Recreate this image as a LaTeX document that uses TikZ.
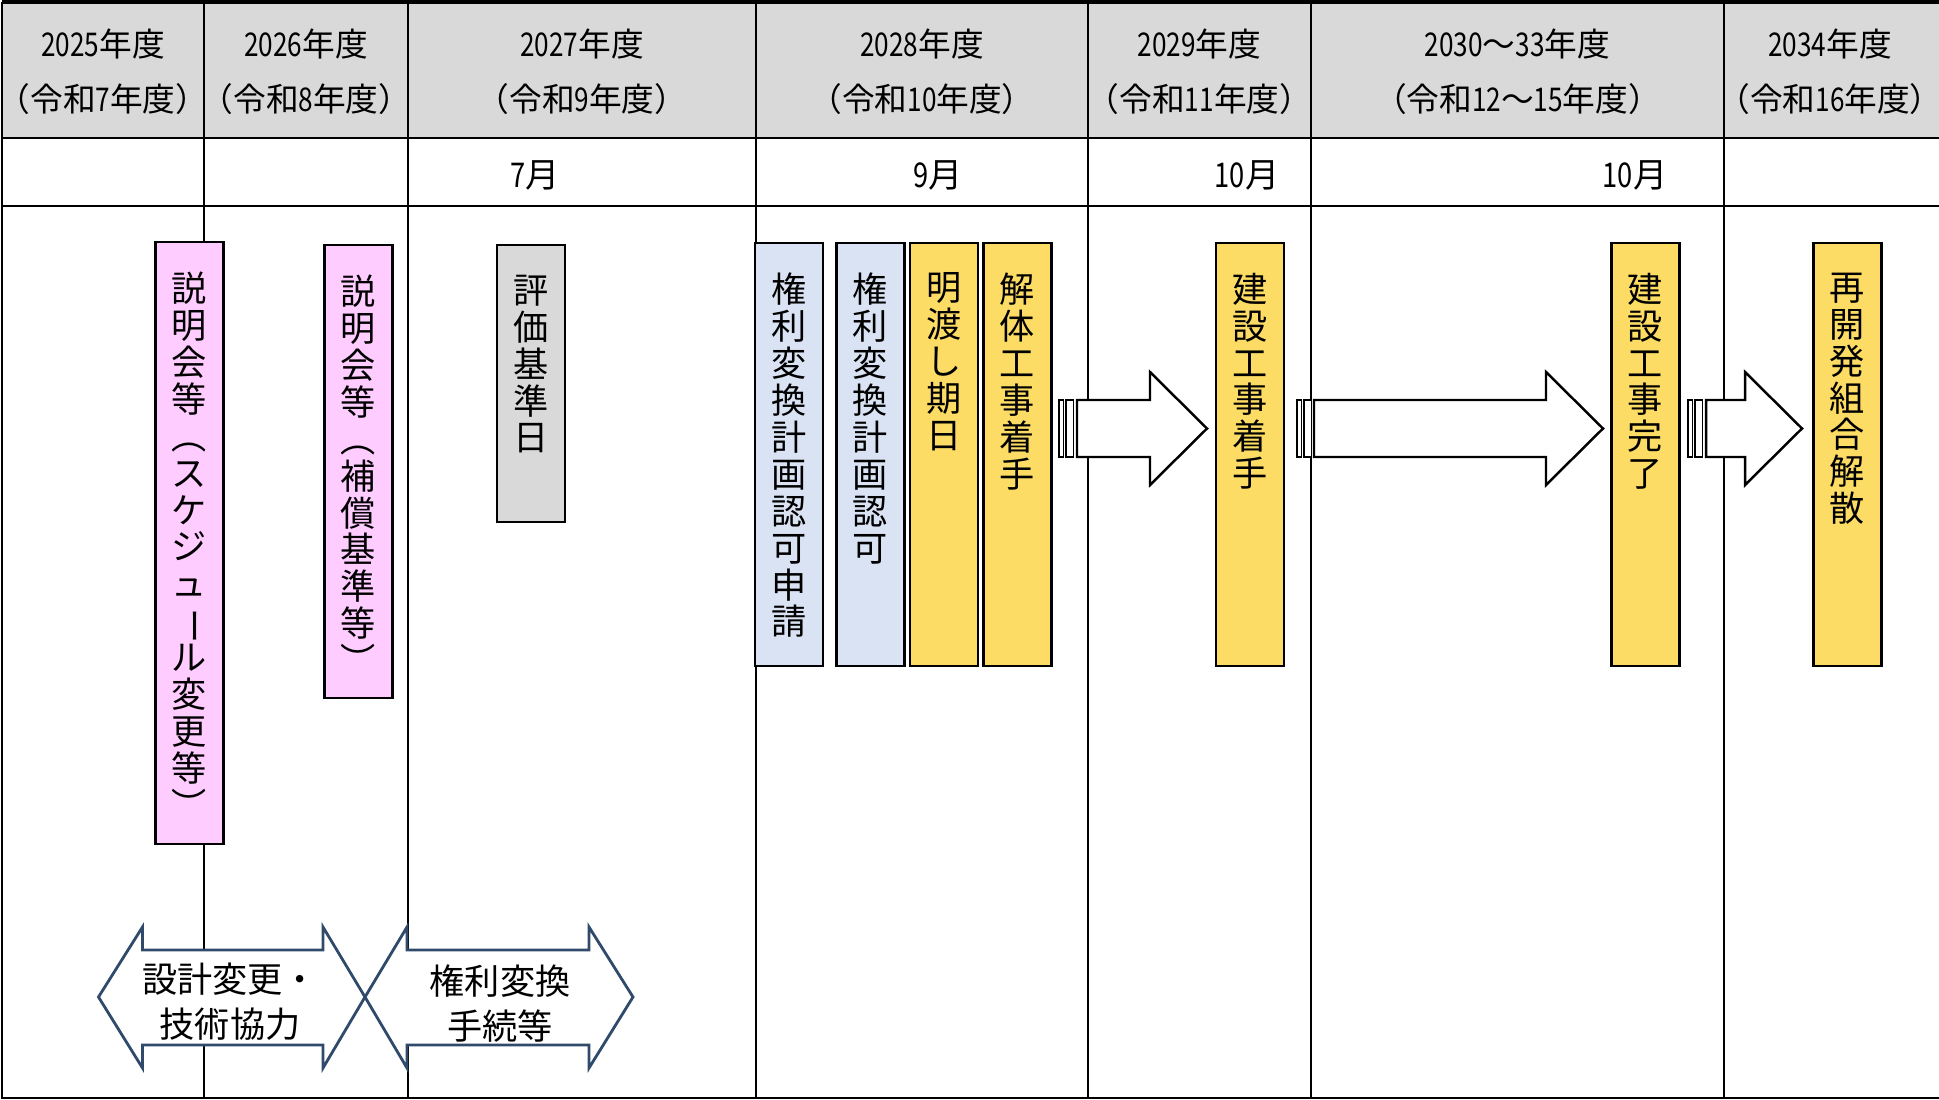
\documentclass[tikz,border=0pt]{standalone}
\usepackage{fontspec}
\setmainfont{Noto Sans CJK JP}
\newfontfamily\narrowfont[FakeStretch=0.8]{Noto Sans CJK JP}
\newcommand{\narrownum}[1]{{\narrowfont #1}}
\usetikzlibrary{positioning}

\definecolor{headgray}{RGB}{217,217,217}
\definecolor{pinkfill}{RGB}{255,204,255}
\definecolor{bluefill}{RGB}{218,227,243}
\definecolor{yellowfill}{RGB}{252,220,100}
\definecolor{arrowblue}{RGB}{47,74,106}

\begin{document}
\begin{tikzpicture}[x = 0.01cm, y = -0.01cm, line width = 0.6pt,
                     headtext/.style = {align = center, font = \fontsize{9.3}{15.6}\selectfont},
                     monthtext/.style = {font = \fontsize{9.7}{11}\selectfont},
                     tallbox/.style = {draw, minimum width = 0.68cm, inner sep = 0pt},
                     pinkbox/.style = {tallbox, fill = pinkfill},
                     graybox/.style = {tallbox, fill = headgray},
                     bluebox/.style = {tallbox, fill = bluefill, minimum height = 4.23cm},
                     yellowbox/.style = {tallbox, fill = yellowfill, minimum height = 4.23cm},
                     vtext/.style = {align = center, inner sep = 0pt, font = \fontsize{10}{10.5}\selectfont},
                     blockarrow/.style = {draw, fill = white, line width = 0.7pt},
                     stripe/.style = {draw, fill = white, line width = 0.35pt},
                     twoway/.style = {draw = arrowblue, fill = white, line width = 0.8pt},
                     arrowtext/.style = {align = center, font = \fontsize{10}{12.8}\selectfont}]
    \useasboundingbox (0, 0) rectangle (1939, 1100);

    % table
    \fill[headgray] (2, 2) rectangle (1939, 138);
    \draw (2, 138) -- (1939, 138);
    \draw (2, 206) -- (1939, 206);
    \draw[line width = 1.2pt] (2, 2) -- (1939, 2);
    \draw (2, 2) -- (2, 1098) -- (1939, 1098);
    \draw (204, 2) -- (204, 1098);
    \draw (408, 2) -- (408, 1098);
    \draw (756, 2) -- (756, 1098);
    \draw (1088, 2) -- (1088, 1098);
    \draw (1311, 2) -- (1311, 1098);
    \draw (1724, 2) -- (1724, 1098);

    \node [headtext] (fy2025) at (103, 72) {\narrownum{2025}年度\\（令和\narrownum{7}年度）};
    \node [headtext] (fy2026) at (306, 72) {\narrownum{2026}年度\\（令和\narrownum{8}年度）};
    \node [headtext] (fy2027) at (582, 72) {\narrownum{2027}年度\\（令和\narrownum{9}年度）};
    \node [headtext] (fy2028) at (922, 72) {\narrownum{2028}年度\\（令和\narrownum{10}年度）};
    \node [headtext] (fy2029) at (1199.5, 72) {\narrownum{2029}年度\\（令和\narrownum{11}年度）};
    \node [headtext] (fy2030) at (1517.5, 72) {\narrownum{2030}～\narrownum{33}年度\\（令和\narrownum{12}～\narrownum{15}年度）};
    \node [headtext] (fy2034) at (1830, 72) {\narrownum{2034}年度\\（令和\narrownum{16}年度）};

    \node [monthtext] (m2027) at (535, 175) {\narrownum{7}月};
    \node [monthtext] (m2028) at (938, 175) {\narrownum{9}月};
    \node [monthtext] (m2029) at (1247, 175) {\narrownum{10}月};
    \node [monthtext] (m2033) at (1635, 175) {\narrownum{10}月};

    % step boxes
    \node [pinkbox, minimum height = 6.02cm] (setsumei1) at (189.5, 543){};
    \node [pinkbox, minimum height = 4.53cm] (setsumei2) at (358.5, 471.5){};
    \node [graybox, minimum height = 2.77cm] (hyoka) at (531, 383.5){};
    \node [bluebox] (shinsei) at (789, 454.5){};
    \node [bluebox] (ninka) at (870.5, 454.5){};
    \node [yellowbox] (akewatashi) at (944, 454.5){};
    \node [yellowbox] (kaitai) at (1017.5, 454.5){};
    \node [yellowbox] (chakko) at (1250, 454.5){};
    \node [yellowbox] (kanryo) at (1645.5, 454.5){};
    \node [yellowbox] (kaisan) at (1847.5, 454.5){};

    \node [vtext, below = 3mm of setsumei1.north] (setsumei1t) {説\\明\\会\\等\\︵\\ス\\ケ\\ジ\\ュ\\\rotatebox[origin=c]{-90}{ー}\\ル\\変\\更\\等\\︶};
    \node [vtext, below = 3mm of setsumei2.north] (setsumei2t) {説\\明\\会\\等\\︵\\補\\償\\基\\準\\等\\︶};
    \node [vtext, below = 3mm of hyoka.north] (hyokat) {評\\価\\基\\準\\日};
    \node [vtext, below = 3mm of shinsei.north] (shinseit) {権\\利\\変\\換\\計\\画\\認\\可\\申\\請};
    \node [vtext, below = 3mm of ninka.north] (ninkat) {権\\利\\変\\換\\計\\画\\認\\可};
    \node [vtext, below = 3mm of akewatashi.north] (akewatashit) {明\\渡\\し\\期\\日};
    \node [vtext, below = 3mm of kaitai.north] (kaitait) {解\\体\\工\\事\\着\\手};
    \node [vtext, below = 3mm of chakko.north] (chakkot) {建\\設\\工\\事\\着\\手};
    \node [vtext, below = 3mm of kanryo.north] (kanryot) {建\\設\\工\\事\\完\\了};
    \node [vtext, below = 3mm of kaisan.north] (kaisant) {再\\開\\発\\組\\合\\解\\散};

    % block arrows
    \draw[stripe] (1059, 400) rectangle (1063.5, 457);
    \draw[stripe] (1066, 400) rectangle (1073.5, 457);
    \draw[blockarrow] (1077, 400) -- (1150, 400) -- (1150, 372) -- (1207, 428.5)
        -- (1150, 485) -- (1150, 457) -- (1077, 457) -- cycle;

    \draw[stripe] (1297, 400) rectangle (1301.5, 457);
    \draw[stripe] (1304, 400) rectangle (1311.5, 457);
    \draw[blockarrow] (1314, 400) -- (1546, 400) -- (1546, 372) -- (1603, 428.5)
        -- (1546, 485) -- (1546, 457) -- (1314, 457) -- cycle;

    \draw[stripe] (1688, 400) rectangle (1692.5, 457);
    \draw[stripe] (1695, 400) rectangle (1702.5, 457);
    \draw[blockarrow] (1706, 400) -- (1745, 400) -- (1745, 372) -- (1802, 428.5)
        -- (1745, 485) -- (1745, 457) -- (1706, 457) -- cycle;

    % two-way arrows
    \draw[twoway] (98.5, 997) -- (142.5, 927) -- (142.5, 950) -- (323, 950) -- (323, 927)
        -- (365, 997) -- (323, 1068) -- (323, 1045) -- (142.5, 1045) -- (142.5, 1068) -- cycle;
    \draw[twoway] (365, 997) -- (407, 927) -- (407, 950) -- (589, 950) -- (589, 927)
        -- (633, 997) -- (589, 1068) -- (589, 1045) -- (407, 1045) -- (407, 1068) -- cycle;
    \node [arrowtext] (sekkei) at (230, 1002) {設計変更・\\技術協力};
    \node [arrowtext] (tetsuzuki) at (500, 1004) {権利変換\\手続等};
\end{tikzpicture}
\end{document}
